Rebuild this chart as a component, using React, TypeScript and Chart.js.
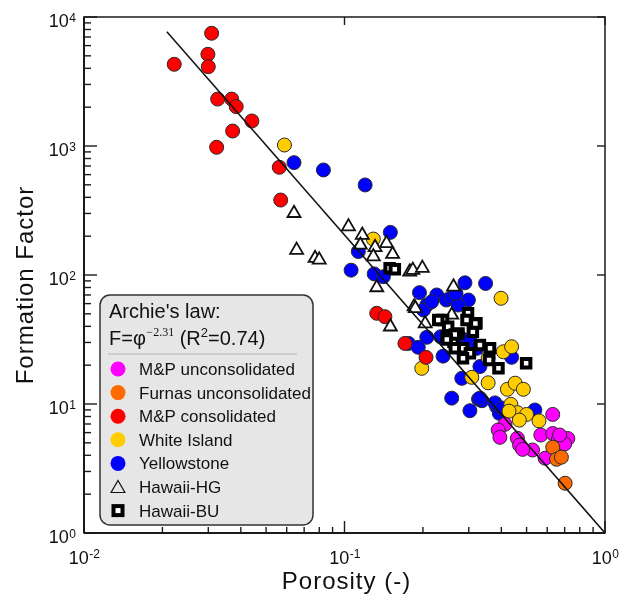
import React, { useEffect, useRef } from 'react';
import { Chart, registerables } from 'chart.js';

Chart.register(...registerables);

// ---------- data (porosity, formation factor) ----------
const mpUnconsPorosity = [0.630, 0.413, 0.389, 0.395, 0.461, 0.470, 0.527, 0.483, 0.567, 0.589, 0.630, 0.662, 0.708, 0.720, 0.700, 0.670];
const mpUnconsFF = [8.3, 6.96, 6.29, 5.52, 5.42, 4.8, 4.4, 4.45, 5.75, 3.8, 5.9, 5.33, 5.26, 5.4, 4.9, 5.75];

const furnasPorosity = [0.630, 0.652, 0.680, 0.703];
const furnasFF = [4.62, 3.73, 3.87, 2.43];

const mpConsPorosity = [0.0309, 0.0299, 0.0300, 0.0222, 0.0326, 0.0369, 0.0384, 0.0441, 0.0372, 0.0323, 0.0562, 0.0569, 0.133, 0.143, 0.1706, 0.2056];
const mpConsFF = [7480, 5140, 4120, 4300, 2310, 2310, 2020, 1563, 1306, 977, 684, 381, 50.5, 47.5, 29.5, 23.0];

const whiteIslandPorosity = [0.0588, 0.129, 0.399, 0.198, 0.407, 0.438, 0.356, 0.308, 0.356, 0.422, 0.452, 0.486, 0.435, 0.461, 0.500, 0.469, 0.558, 0.428];
const whiteIslandFF = [1018, 190, 66, 18.9, 25.4, 27.8, 22.8, 16.1, 14.6, 13.0, 14.5, 13.0, 9.95, 8.57, 8.3, 7.5, 7.4, 8.8];

const yellowstonePorosity = [0.064, 0.083, 0.120, 0.150, 0.113, 0.106, 0.130, 0.141, 0.194, 0.207, 0.226, 0.246, 0.258, 0.290, 0.348, 0.299, 0.273, 0.201, 0.207, 0.176, 0.192, 0.239, 0.331, 0.282, 0.258, 0.303, 0.327, 0.337, 0.384, 0.393, 0.438, 0.538, 0.234, 0.281, 0.303, 0.322, 0.378, 0.403, 0.331, 0.216, 0.268];
const yellowstoneFF = [743, 652, 499, 214, 152, 109, 102, 97, 73, 58.5, 70, 64, 67, 87, 86, 64, 58.5, 53.5, 32.9, 29.5, 27.5, 23.5, 19.5, 15.8, 11.1, 8.87, 10.9, 10.6, 9.5, 8.47, 23, 8.98, 33.2, 32.3, 31.3, 27, 10.2, 9.3, 11.1, 62, 72];

const hawaiiHGPorosity = [0.064, 0.0655, 0.0771, 0.080, 0.1036, 0.117, 0.115, 0.131, 0.129, 0.145, 0.153, 0.133, 0.178, 0.183, 0.199, 0.185, 0.204, 0.150, 0.187, 0.262, 0.258];
const hawaiiHGFF = [301, 156, 135, 131, 237, 204, 171, 164, 139, 176, 145, 80, 106, 109, 113, 56.8, 42, 39.7, 55.2, 81, 49];

const hawaiiBUPorosity = [0.149, 0.156, 0.298, 0.239, 0.250, 0.321, 0.311, 0.247, 0.262, 0.274, 0.285, 0.303, 0.265, 0.285, 0.331, 0.362, 0.359, 0.390, 0.498, 0.294, 0.229, 0.318, 0.265, 0.247];
const hawaiiBUFF = [113, 111, 50.5, 44.8, 39.7, 42.2, 36.3, 33.2, 30.4, 35.2, 27, 24.7, 27, 22.6, 28.7, 27, 21.9, 18.9, 20.7, 44.8, 44.8, 42, 34.6, 31.6];

// Archie's law fit line end points
const fitPorosity = [0.0208, 1];
const fitFF = [7700, 1];

// axes
const xMin = 0.01;
const xMax = 1;
const yMin = 1;
const yMax = 10000;
const xDecades = [0.01, 0.1, 1];
const xTickExponents = ['-2', '-1', '0'];
const yDecades = [1, 10, 100, 1000, 10000];
const yTickExponents = ['0', '1', '2', '3', '4'];
const minorMultipliers = [2, 3, 4, 5, 6, 7, 8, 9];

const legendTitle = "Archie's law:";
const FONT = '"Liberation Sans", Arial, Helvetica, sans-serif';
const SERIF = '"Liberation Serif", "Times New Roman", serif';

const pts = (xs: number[], ys: number[]) => xs.map((x, i) => ({ x, y: ys[i] }));

const circle = (label: string, xs: number[], ys: number[], color: string, order: number) => ({
  label,
  data: pts(xs, ys),
  pointStyle: 'circle',
  pointRadius: 7,
  pointBorderWidth: 1,
  pointBackgroundColor: color,
  pointBorderColor: '#2a2a2a',
  backgroundColor: color,
  borderColor: '#2a2a2a',
  order,
  legendKind: 'circle',
  legendColor: color,
});

function line(ctx: CanvasRenderingContext2D, x1: number, y1: number, x2: number, y2: number) {
  ctx.beginPath();
  ctx.moveTo(x1, y1);
  ctx.lineTo(x2, y2);
  ctx.stroke();
}

const framePlugin = {
  id: 'frameAndLegend',
  afterDraw(chart: any) {
    const { ctx, chartArea: a, scales } = chart;
    const xs = scales.x;
    const ys = scales.y;
    ctx.save();
    ctx.strokeStyle = '#1a1a1a';
    ctx.lineWidth = 1.5;
    ctx.strokeRect(a.left, a.top, a.right - a.left, a.bottom - a.top);
    ctx.lineWidth = 2;
    line(ctx, a.left, a.top, a.left, a.bottom);
    line(ctx, a.left, a.bottom, a.right, a.bottom);

    // x ticks
    ctx.lineWidth = 1.4;
    xDecades.forEach((d) => {
      const px = xs.getPixelForValue(d);
      line(ctx, px, a.bottom, px, a.bottom - 12);
      line(ctx, px, a.top, px, a.top + 8);
      if (d < xMax) {
        minorMultipliers.forEach((m) => {
          const p = xs.getPixelForValue(d * m);
          line(ctx, p, a.bottom, p, a.bottom - 6);
        });
      }
    });
    // y ticks
    yDecades.forEach((d) => {
      const py = ys.getPixelForValue(d);
      line(ctx, a.left, py, a.left + 13, py);
      line(ctx, a.right, py, a.right - 8, py);
      if (d < yMax) {
        minorMultipliers.forEach((m) => {
          const p = ys.getPixelForValue(d * m);
          line(ctx, a.left, p, a.left + 7, p);
        });
      }
    });

    // tick labels
    ctx.fillStyle = '#111';
    ctx.textBaseline = 'alphabetic';
    const big = `18px ${FONT}`;
    const small = `12px ${FONT}`;
    yDecades.forEach((d, i) => {
      const py = ys.getPixelForValue(d);
      ctx.font = small;
      const we = ctx.measureText(yTickExponents[i]).width;
      const right = a.left - 8;
      ctx.textAlign = 'left';
      ctx.fillText(yTickExponents[i], right - we, py + 4.5);
      ctx.font = big;
      ctx.textAlign = 'right';
      ctx.fillText('10', right - we - 0.5, py + 10);
    });
    xDecades.forEach((d, i) => {
      const px = xs.getPixelForValue(d);
      ctx.font = big;
      const w10 = ctx.measureText('10').width;
      ctx.font = small;
      const we = ctx.measureText(xTickExponents[i]).width;
      const start = px - (w10 + we) / 2;
      ctx.textAlign = 'left';
      ctx.font = big;
      ctx.fillText('10', start, a.bottom + 31);
      ctx.font = small;
      ctx.fillText(xTickExponents[i], start + w10 + 0.5, a.bottom + 25);
    });

    // axis titles
    ctx.font = `24px ${FONT}`;
    (ctx as any).letterSpacing = '1px';
    ctx.textAlign = 'center';
    ctx.fillText('Porosity (-)', (a.left + a.right) / 2 + 2, a.bottom + 56);
    ctx.save();
    ctx.translate(33, (a.top + a.bottom) / 2 + 10);
    ctx.rotate(-Math.PI / 2);
    ctx.fillText('Formation Factor', 0, 0);
    ctx.restore();
    (ctx as any).letterSpacing = '0px';

    // legend box
    const bx = 100, by = 295, bw = 213, bh = 230, r = 10;
    ctx.beginPath();
    ctx.moveTo(bx + r, by);
    ctx.lineTo(bx + bw - r, by);
    ctx.arcTo(bx + bw, by, bx + bw, by + r, r);
    ctx.lineTo(bx + bw, by + bh - r);
    ctx.arcTo(bx + bw, by + bh, bx + bw - r, by + bh, r);
    ctx.lineTo(bx + r, by + bh);
    ctx.arcTo(bx, by + bh, bx, by + bh - r, r);
    ctx.lineTo(bx, by + r);
    ctx.arcTo(bx, by, bx + r, by, r);
    ctx.closePath();
    ctx.fillStyle = '#e6e6e6';
    ctx.fill();
    ctx.strokeStyle = '#333';
    ctx.lineWidth = 1.5;
    ctx.stroke();

    ctx.fillStyle = '#111';
    ctx.textAlign = 'left';
    ctx.font = `20px ${FONT}`;
    ctx.fillText(legendTitle, 109, 318);
    // formula F=φ^-2.31 (R²=0.74)
    let cx = 109;
    const put = (t: string, font: string, yb: number) => {
      ctx.font = font;
      ctx.fillText(t, cx, yb);
      cx += ctx.measureText(t).width;
    };
    put('F=\u03c6', `20px ${FONT}`, 345);
    cx += 0.5;
    put('\u22122.31', `12px ${SERIF}`, 336);
    put(' (R', `20px ${FONT}`, 345);
    put('2', `13px ${FONT}`, 337);
    put('=0.74)', `20px ${FONT}`, 345);

    ctx.strokeStyle = '#b4b4b4';
    ctx.lineWidth = 1;
    line(ctx, 108, 354, 297, 354);

    const entries = chart.data.datasets.filter((ds: any) => ds.legendKind);
    entries.sort((p: any, q: any) => p.legendIndex - q.legendIndex);
    entries.forEach((ds: any, i: number) => {
      const base = 375 + i * 23.6;
      const my = base - 6;
      const mx = 118;
      if (ds.legendKind === 'circle') {
        ctx.beginPath();
        ctx.arc(mx, my, 7.5, 0, Math.PI * 2);
        ctx.fillStyle = ds.legendColor;
        ctx.fill();
      } else if (ds.legendKind === 'triangle') {
        const rr = 8;
        ctx.beginPath();
        for (let k = 0; k < 3; k++) {
          const ang = (k * 2 * Math.PI) / 3;
          const X = mx + Math.sin(ang) * rr;
          const Y = my + 1.5 - Math.cos(ang) * rr;
          if (k === 0) ctx.moveTo(X, Y); else ctx.lineTo(X, Y);
        }
        ctx.closePath();
        ctx.strokeStyle = '#111';
        ctx.lineWidth = 1.2;
        ctx.stroke();
      } else {
        ctx.fillStyle = '#000';
        ctx.fillRect(mx - 6.5, my - 6.5, 13, 13);
        ctx.fillStyle = '#fff';
        ctx.fillRect(mx - 2.5, my - 2.5, 5, 5);
      }
      ctx.fillStyle = '#111';
      ctx.font = `17px ${FONT}`;
      ctx.fillText(ds.label, 139, base);
    });
    ctx.restore();
  },
};

export default function App() {
  const ref = useRef<HTMLCanvasElement>(null);
  useEffect(() => {
    document.body.style.margin = '0';
    const datasets: any[] = [
      {
        label: 'fit',
        data: pts(fitPorosity, fitFF),
        showLine: true,
        borderColor: '#111',
        borderWidth: 1.5,
        pointRadius: 0,
        fill: false,
        order: 0,
      },
      {
        label: 'Hawaii-BU',
        data: pts(hawaiiBUPorosity, hawaiiBUFF),
        pointStyle: 'rect',
        pointRadius: 6,
        pointBorderWidth: 4,
        pointBackgroundColor: '#fff',
        pointBorderColor: '#000',
        order: 1,
        legendKind: 'square',
        legendIndex: 6,
      },
      {
        label: 'Hawaii-HG',
        data: pts(hawaiiHGPorosity, hawaiiHGFF),
        pointStyle: 'triangle',
        pointRadius: 7.5,
        pointBorderWidth: 1.8,
        pointBackgroundColor: '#fff',
        pointBorderColor: '#111',
        order: 2,
        legendKind: 'triangle',
        legendIndex: 5,
      },
      { ...circle('M&P consolidated', mpConsPorosity, mpConsFF, '#ff0000', 3), legendIndex: 2 },
      { ...circle('Furnas unconsolidated', furnasPorosity, furnasFF, '#ff6a00', 4), legendIndex: 1 },
      { ...circle('M&P unconsolidated', mpUnconsPorosity, mpUnconsFF, '#ff00ff', 5), legendIndex: 0 },
      { ...circle('White Island', whiteIslandPorosity, whiteIslandFF, '#ffcc00', 6), legendIndex: 3 },
      { ...circle('Yellowstone', yellowstonePorosity, yellowstoneFF, '#0000ff', 7), legendIndex: 4 },
    ];
    const chart = new Chart(ref.current as HTMLCanvasElement, {
      type: 'scatter',
      data: { datasets },
      options: {
        responsive: false,
        animation: false,
        events: [],
        layout: { padding: { left: 84, top: 17, right: 32, bottom: 71 } },
        scales: {
          x: { type: 'logarithmic', min: xMin, max: xMax, display: false },
          y: { type: 'logarithmic', min: yMin, max: yMax, display: false },
        },
        plugins: { legend: { display: false }, tooltip: { enabled: false } },
      },
      plugins: [framePlugin],
    } as any);
    return () => chart.destroy();
  }, []);
  return (
    <div style={{ width: 637, height: 604, position: 'relative', background: '#fff' }}>
      <canvas ref={ref} width={637} height={604} style={{ display: 'block', width: 637, height: 604 }} />
    </div>
  );
}
